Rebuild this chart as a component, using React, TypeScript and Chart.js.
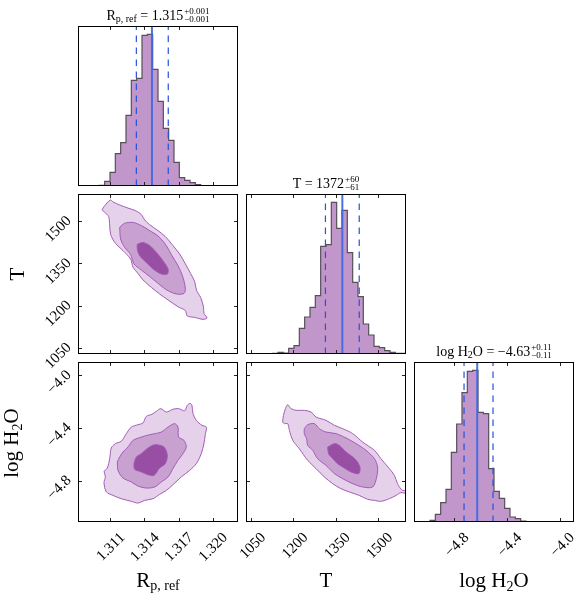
import React, { useEffect, useRef } from 'react';
import { Chart, registerables } from 'chart.js';

Chart.register(...registerables);

// ---------------- data ----------------
const rpRange = [1.30813, 1.32217];
const tRange = [1030, 1598];
const logRange = [-5.11, -3.895];

const rpTicks = [1.311, 1.314, 1.317, 1.32];
const tTicks = [1050, 1200, 1350, 1500];
const logTicks = [-4.8, -4.4, -4.0];

// 30-bin histograms (relative counts)
const rpCounts = [0, 0, 0, 0, 0, 2, 14, 41, 97, 130, 212, 317, 323, 452, 455, 350, 254, 173, 137, 71, 25, 17, 10, 4, 1, 0, 0, 0, 0, 0];
const tCounts = [0, 0, 0, 0, 0, 0, 2, 5, 3, 17, 25, 77, 111, 140, 175, 323, 328, 455, 377, 431, 304, 215, 172, 90, 57, 23, 19, 10, 5, 2];
const logCounts = [0, 0, 0, 0, 5, 23, 58, 98, 209, 294, 388, 452, 455, 329, 325, 160, 92, 71, 41, 15, 10, 3, 0, 0, 0, 0, 0, 0, 0, 0];
const histTop = 480;

// 16th, 50th, 84th percentiles
const rpQuant = [1.31325, 1.31462, 1.31605];
const tQuant = [1312, 1372, 1432];
const logQuant = [-4.73, -4.63, -4.51];

// contour polygons (x, y) in data units
const rpTOuter = [[1.31024, 1542], [1.31041, 1553], [1.31097, 1577], [1.3112, 1570], [1.31179, 1559], [1.31252, 1548], [1.31316, 1539], [1.31369, 1525], [1.31398, 1506], [1.31442, 1489], [1.31515, 1468], [1.31579, 1447], [1.31646, 1415], [1.31705, 1385], [1.31755, 1350], [1.31801, 1316], [1.31836, 1288], [1.31854, 1255], [1.31889, 1231], [1.31915, 1196], [1.31918, 1174], [1.31945, 1158], [1.3191, 1153], [1.31836, 1160], [1.31772, 1165], [1.31755, 1184], [1.3169, 1198], [1.31603, 1222], [1.31529, 1243], [1.31456, 1267], [1.31383, 1293], [1.31339, 1316], [1.31296, 1338], [1.31275, 1367], [1.31208, 1397], [1.31141, 1423], [1.311, 1454], [1.31091, 1486], [1.31082, 1518], [1.31047, 1533]];
const rpTMid = [[1.31179, 1480], [1.31222, 1494], [1.31296, 1497], [1.31369, 1486], [1.31442, 1468], [1.31515, 1449], [1.31579, 1420], [1.31638, 1379], [1.3169, 1344], [1.31734, 1302], [1.31755, 1261], [1.31743, 1245], [1.31676, 1243], [1.31588, 1258], [1.31515, 1281], [1.31442, 1305], [1.31369, 1328], [1.31304, 1350], [1.31275, 1383], [1.31222, 1409], [1.31187, 1438]];
const rpTIn = [[1.31333, 1420], [1.31383, 1426], [1.31442, 1415], [1.315, 1391], [1.31559, 1361], [1.31603, 1332], [1.31597, 1314], [1.31544, 1314], [1.31471, 1332], [1.31412, 1355], [1.31354, 1379], [1.31333, 1403]];

const rpLogOuter = [[1.31041, -4.725], [1.3107, -4.7], [1.31091, -4.629], [1.31105, -4.548], [1.31141, -4.515], [1.31193, -4.497], [1.31237, -4.439], [1.31281, -4.389], [1.31339, -4.371], [1.31383, -4.358], [1.31412, -4.308], [1.31462, -4.292], [1.315, -4.27], [1.31538, -4.249], [1.31588, -4.275], [1.31646, -4.254], [1.31696, -4.249], [1.31749, -4.265], [1.31772, -4.224], [1.31796, -4.209], [1.31813, -4.224], [1.31822, -4.287], [1.31851, -4.338], [1.31901, -4.376], [1.31939, -4.389], [1.3193, -4.447], [1.31918, -4.515], [1.31895, -4.591], [1.31851, -4.667], [1.31793, -4.718], [1.31719, -4.768], [1.31646, -4.827], [1.31588, -4.87], [1.31529, -4.9], [1.31471, -4.933], [1.31398, -4.946], [1.31339, -4.966], [1.31281, -4.953], [1.31193, -4.933], [1.3112, -4.908], [1.31062, -4.882], [1.31041, -4.811], [1.31053, -4.768]];
const rpLogMid = [[1.31158, -4.654], [1.31179, -4.616], [1.31208, -4.578], [1.31252, -4.54], [1.31296, -4.49], [1.31369, -4.465], [1.31442, -4.447], [1.31544, -4.427], [1.31603, -4.389], [1.31661, -4.363], [1.3169, -4.389], [1.31696, -4.465], [1.31743, -4.49], [1.31763, -4.54], [1.31734, -4.591], [1.3169, -4.642], [1.31646, -4.705], [1.31603, -4.768], [1.31544, -4.806], [1.31486, -4.844], [1.31412, -4.852], [1.31339, -4.837], [1.31281, -4.806], [1.31208, -4.776], [1.31164, -4.718]];
const rpLogIn = [[1.31304, -4.667], [1.31325, -4.616], [1.31369, -4.591], [1.31427, -4.548], [1.31486, -4.523], [1.31567, -4.54], [1.31597, -4.604], [1.31579, -4.667], [1.31529, -4.7], [1.3148, -4.756], [1.31427, -4.751], [1.31369, -4.73], [1.3131, -4.71]];

const tLogOuter = [[1160, -4.351], [1163, -4.3], [1170, -4.249], [1178, -4.219], [1190, -4.249], [1208, -4.262], [1237, -4.262], [1261, -4.275], [1279, -4.313], [1314, -4.338], [1344, -4.376], [1373, -4.401], [1409, -4.439], [1444, -4.503], [1486, -4.566], [1509, -4.629], [1539, -4.705], [1557, -4.756], [1568, -4.819], [1586, -4.87], [1610, -4.865], [1610, -4.895], [1580, -4.887], [1563, -4.908], [1539, -4.933], [1509, -4.953], [1486, -4.946], [1462, -4.938], [1432, -4.908], [1397, -4.882], [1367, -4.857], [1338, -4.819], [1308, -4.768], [1279, -4.705], [1249, -4.642], [1219, -4.553], [1196, -4.49], [1184, -4.414], [1178, -4.363], [1166, -4.363]];
const tLogMid = [[1237, -4.401], [1249, -4.371], [1273, -4.363], [1290, -4.401], [1314, -4.427], [1350, -4.439], [1385, -4.472], [1421, -4.515], [1456, -4.566], [1486, -4.629], [1497, -4.692], [1494, -4.768], [1480, -4.844], [1444, -4.844], [1409, -4.819], [1373, -4.781], [1344, -4.743], [1314, -4.68], [1284, -4.629], [1267, -4.566], [1249, -4.528], [1245, -4.477], [1237, -4.439]];
const tLogIn = [[1320, -4.54], [1344, -4.515], [1361, -4.528], [1385, -4.578], [1409, -4.616], [1426, -4.654], [1435, -4.7], [1430, -4.743], [1403, -4.73], [1379, -4.7], [1355, -4.667], [1338, -4.629], [1323, -4.591]];

// ---------------- layout / style ----------------
const PANEL = 160;
const AXW = 70;
const AXH = 75;
const PADT = 10;
const PADR = 10;
const COLS = [78, 246, 414];
const ROWS = [26, 194, 362];
const SERIF = "'Liberation Serif', 'DejaVu Serif', serif";
const LEVEL_COLORS = ['#e5d1e9', '#c9a1d0', '#984ea3'];
const LEVEL_LINE = '#a35cb6';
const HIST_FILL = 'rgb(193,150,202)';

const fmtRp = (v: number) => v.toFixed(3);
const fmtT = (v: number) => String(Math.round(v));
const fmtLog = (v: number) => (v < 0 ? '\u2212' : '') + Math.abs(v).toFixed(1);

function makeScale(kind: 'x' | 'y', range: number[], ticks: number[], fmt: (v: number) => string, showLabels: boolean, showGrid: boolean) {
  return {
    type: 'linear',
    position: kind === 'x' ? 'bottom' : 'left',
    min: range[0],
    max: range[1],
    afterBuildTicks: (s: any) => {
      s.ticks = ticks.map((v) => ({ value: v }));
    },
    afterFit: (s: any) => {
      if (kind === 'x') s.height = AXH;
      else s.width = AXW;
      s.paddingLeft = 0;
      s.paddingRight = 0;
      s.paddingTop = 0;
      s.paddingBottom = 0;
    },
    grid: { display: showGrid, drawOnChartArea: true, drawTicks: false, color: '#222', lineWidth: 1, z: 1 },
    border: { display: false, dash: [4, PANEL - 8] },
    ticks: {
      display: showLabels,
      autoSkip: false,
      minRotation: 45,
      maxRotation: 45,
      padding: kind === 'x' ? 7 : 9,
      labelOffset: kind === 'x' ? 12 : -3,
      font: { family: SERIF, size: 15 },
      color: '#000',
      callback: (v: any) => fmt(Number(v)),
    },
  };
}

const framePlugin = {
  id: 'frame',
  afterDraw(chart: any) {
    const { ctx, chartArea: a } = chart;
    ctx.save();
    ctx.strokeStyle = '#000';
    ctx.lineWidth = 1;
    ctx.strokeRect(Math.round(a.left) + 0.5, Math.round(a.top) + 0.5, Math.round(a.width) - 1, Math.round(a.height) - 1);
    ctx.restore();
  },
};

function baseOptions(x: any, y: any) {
  return {
    responsive: false,
    animation: false,
    events: [],
    layout: { padding: { top: PADT, right: PADR, left: 0, bottom: 0 }, autoPadding: false },
    plugins: { legend: { display: false }, tooltip: { enabled: false }, title: { display: false } },
    scales: { x, y },
  };
}

function histConfig(range: number[], counts: number[], quant: number[], ticks: number[], fmt: (v: number) => string, showX: boolean) {
  const w = (range[1] - range[0]) / counts.length;
  const pts = [{ x: range[0], y: 0 }]
    .concat(counts.map((c, i) => ({ x: range[0] + i * w, y: c })))
    .concat([{ x: range[1], y: counts[counts.length - 1] }, { x: range[1], y: 0 }]);
  const vline = (q: number) => [{ x: q, y: 0 }, { x: q, y: histTop }];
  return {
    type: 'scatter',
    data: {
      datasets: [
        { data: vline(quant[1]), showLine: true, borderColor: 'rgba(65,105,225,0.95)', borderWidth: 2, pointRadius: 0, order: 0 },
        { data: vline(quant[0]), showLine: true, borderColor: '#2353df', borderWidth: 1.2, borderDash: [6.5, 5.5], pointRadius: 0, order: 1 },
        { data: vline(quant[2]), showLine: true, borderColor: '#2353df', borderWidth: 1.2, borderDash: [6.5, 5.5], pointRadius: 0, order: 1 },
        { data: pts, showLine: true, stepped: 'after', fill: 'origin', backgroundColor: HIST_FILL, borderColor: '#57505a', borderWidth: 1.2, pointRadius: 0, order: 2 },
      ],
    },
    options: baseOptions(
      makeScale('x', range, ticks, fmt, showX, true),
      makeScale('y', [0, histTop], [], fmt, false, false)
    ),
    plugins: [framePlugin],
  };
}

function contourConfig(
  xr: number[], yr: number[], levels: number[][][],
  xt: number[], yt: number[], fx: (v: number) => string, fy: (v: number) => string,
  showX: boolean, showY: boolean
) {
  const datasets = levels.map((poly, i) => {
    const pts = poly.map(([x, y]) => ({ x, y }));
    pts.push({ x: poly[0][0], y: poly[0][1] });
    return {
      data: pts,
      showLine: true,
      fill: 'shape',
      backgroundColor: LEVEL_COLORS[i],
      borderColor: LEVEL_LINE,
      borderWidth: 1,
      pointRadius: 0,
      tension: 0.3,
      order: 3 - i,
    };
  });
  return {
    type: 'scatter',
    data: { datasets },
    options: baseOptions(makeScale('x', xr, xt, fx, showX, true), makeScale('y', yr, yt, fy, showY, true)),
    plugins: [framePlugin],
  };
}

function ChartPanel({ col, row, make }: { col: number; row: number; make: () => any }) {
  const ref = useRef<HTMLCanvasElement>(null);
  useEffect(() => {
    const chart = new Chart(ref.current as HTMLCanvasElement, make());
    return () => chart.destroy();
  }, []);
  const w = AXW + PANEL + PADR;
  const h = PADT + PANEL + AXH;
  return (
    <canvas
      ref={ref}
      width={w}
      height={h}
      style={{ position: 'absolute', left: COLS[col] - AXW, top: ROWS[row] - PADT, width: w, height: h }}
    />
  );
}

const Scripts = ({ sup, sub }: { sup: string; sub: string }) => (
  <span style={{ display: 'inline-flex', flexDirection: 'column', verticalAlign: '5.7px', fontSize: 9, lineHeight: '7.5px', marginLeft: 1, textAlign: 'left' }}>
    <span>{sup}</span>
    <span>{sub}</span>
  </span>
);

function Title({ col, children }: { col: number; children: any }) {
  const cx = COLS[col] + PANEL / 2;
  const baseline = ROWS[col] - 5.5;
  return (
    <div style={{ position: 'absolute', left: cx - 150, width: 300, top: baseline - 19.7, lineHeight: '30px', fontSize: 14, fontFamily: SERIF, textAlign: 'center', whiteSpace: 'nowrap', color: '#000' }}>
      {children}
    </div>
  );
}

function XLabel({ col, children }: { col: number; children: any }) {
  const cx = COLS[col] + PANEL / 2;
  return (
    <div style={{ position: 'absolute', left: cx - 100, width: 200, top: 560, lineHeight: '40px', fontSize: 21, fontFamily: SERIF, textAlign: 'center', whiteSpace: 'nowrap', color: '#000' }}>
      {children}
    </div>
  );
}

function YLabel({ cx, cy, children }: { cx: number; cy: number; children: any }) {
  return (
    <div style={{ position: 'absolute', left: cx, top: cy, transform: 'translate(-50%,-50%) rotate(-90deg)', lineHeight: '24px', fontSize: 21, fontFamily: SERIF, whiteSpace: 'nowrap', color: '#000' }}>
      {children}
    </div>
  );
}

export default function App() {
  return (
    <div style={{ position: 'absolute', left: 0, top: 0, width: 584, height: 603, background: '#fff', overflow: 'hidden' }}>
      <ChartPanel col={0} row={0} make={() => histConfig(rpRange, rpCounts, rpQuant, rpTicks, fmtRp, false)} />
      <ChartPanel col={0} row={1} make={() => contourConfig(rpRange, tRange, [rpTOuter, rpTMid, rpTIn], rpTicks, tTicks, fmtRp, fmtT, false, true)} />
      <ChartPanel col={1} row={1} make={() => histConfig(tRange, tCounts, tQuant, tTicks, fmtT, false)} />
      <ChartPanel col={0} row={2} make={() => contourConfig(rpRange, logRange, [rpLogOuter, rpLogMid, rpLogIn], rpTicks, logTicks, fmtRp, fmtLog, true, true)} />
      <ChartPanel col={1} row={2} make={() => contourConfig(tRange, logRange, [tLogOuter, tLogMid, tLogIn], tTicks, logTicks, fmtT, fmtLog, true, false)} />
      <ChartPanel col={2} row={2} make={() => histConfig(logRange, logCounts, logQuant, logTicks, fmtLog, true)} />

      <Title col={0}>
        R<span style={{ fontSize: 10, verticalAlign: '-2px' }}>p, ref</span> = 1.315<Scripts sup="+0.001" sub={'\u22120.001'} />
      </Title>
      <Title col={1}>
        T = 1372<Scripts sup="+60" sub={'\u221261'} />
      </Title>
      <Title col={2}>
        log H<span style={{ fontSize: 10, verticalAlign: '-2px' }}>2</span>O = {'\u2212'}4.63<Scripts sup="+0.11" sub={'\u22120.11'} />
      </Title>

      <XLabel col={0}>
        R<span style={{ fontSize: 14, verticalAlign: '-3px' }}>p, ref</span>
      </XLabel>
      <XLabel col={1}>T</XLabel>
      <XLabel col={2}>
        log H<span style={{ fontSize: 14, verticalAlign: '-4px' }}>2</span>O
      </XLabel>

      <YLabel cx={17.4} cy={274}>T</YLabel>
      <YLabel cx={14.4} cy={443}>
        log H<span style={{ fontSize: 14, verticalAlign: '-4px' }}>2</span>O
      </YLabel>
    </div>
  );
}
